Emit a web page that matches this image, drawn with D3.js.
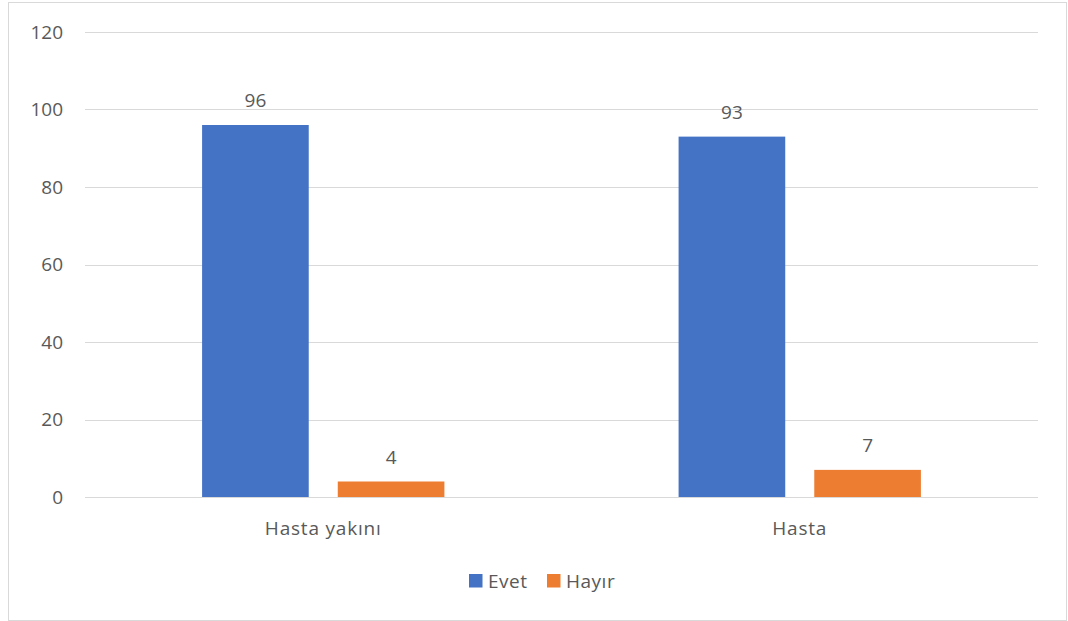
<!DOCTYPE html>
<meta charset="utf-8">
<style>
body { margin: 0; background: #fff; }
text { font-family: "Open Sans", sans-serif; fill: #595959; }
</style>
<body>
<svg id="chart" width="1068" height="621"></svg>
<script src="https://cdn.jsdelivr.net/npm/d3@7"></script>
<script>

var categories = ["Hasta yakını", "Hasta"];
var series = ["Evet", "Hayır"];
var evet = [96, 93];
var hayir = [4, 7];
var yTicks = [0, 20, 40, 60, 80, 100, 120];
var colors = ["#4472C4", "#ED7D31"];

var svg = d3.select("#chart");

var plotLeft = 85, plotRight = 1038, plotTop = 32, plotBottom = 497;

// chart border
svg.append("rect")
    .attr("x", 8.5).attr("y", 2.5)
    .attr("width", 1058).attr("height", 618)
    .attr("fill", "#fff")
    .attr("stroke", "#d9d9d9");

var y = d3.scaleLinear().domain([0, 120]).range([plotBottom, plotTop]);

var x0 = d3.scaleBand().domain(categories).range([plotLeft, plotRight]);

var x1 = d3.scaleBand().domain(series)
    .range([0, x0.bandwidth()])
    .paddingInner(0.214)
    .paddingOuter(0.863);

var color = d3.scaleOrdinal().domain(series).range(colors);

// grid lines + tick labels
svg.append("g").selectAll("line")
    .data(yTicks)
  .enter().append("line")
    .attr("x1", plotLeft).attr("x2", plotRight)
    .attr("y1", function(d) { return Math.round(y(d)) + 0.5; })
    .attr("y2", function(d) { return Math.round(y(d)) + 0.5; })
    .attr("stroke", "#d9d9d9")
    .attr("stroke-width", 1);

svg.append("g").selectAll("text")
    .data(yTicks)
  .enter().append("text")
    .attr("x", 63)
    .attr("y", function(d) { return y(d); })
    .attr("dy", "0.35em")
    .attr("text-anchor", "end")
    .style("font-size", "19px")
    .text(function(d) { return d; });

var rows = categories.map(function(c, i) {
  return { cat: c, values: [
    { key: "Evet", value: evet[i] },
    { key: "Hayır", value: hayir[i] }
  ]};
});

var groups = svg.append("g").selectAll("g")
    .data(rows)
  .enter().append("g")
    .attr("transform", function(d) { return "translate(" + x0(d.cat) + ",0)"; });

groups.selectAll("rect")
    .data(function(d) { return d.values; })
  .enter().append("rect")
    .attr("x", function(d) { return x1(d.key); })
    .attr("y", function(d) { return y(d.value); })
    .attr("width", x1.bandwidth())
    .attr("height", function(d) { return y(0) - y(d.value); })
    .attr("fill", function(d) { return color(d.key); });

groups.selectAll("text")
    .data(function(d) { return d.values; })
  .enter().append("text")
    .attr("x", function(d) { return x1(d.key) + x1.bandwidth() / 2; })
    .attr("y", function(d) { return y(d.value) - 18; })
    .attr("text-anchor", "middle")
    .style("font-size", "19px")
    .text(function(d) { return d.value; });

// category labels
svg.append("g").selectAll("text")
    .data(categories)
  .enter().append("text")
    .attr("x", function(d) { return x0(d) + x0.bandwidth() / 2; })
    .attr("y", 535)
    .attr("text-anchor", "middle")
    .style("font-size", "19px")
    .style("letter-spacing", "0.8px")
    .text(function(d) { return d; });

// legend
var legendX = [469, 547];
var legend = svg.append("g").selectAll("g")
    .data(series)
  .enter().append("g")
    .attr("transform", function(d, i) { return "translate(" + legendX[i] + ",574)"; });

legend.append("rect")
    .attr("width", 13.5).attr("height", 13.5)
    .attr("fill", function(d) { return color(d); });

legend.append("text")
    .attr("x", 19)
    .attr("y", 13.5)
    .style("font-size", "19px")
    .style("letter-spacing", "0.5px")
    .text(function(d) { return d; });

</script>
</body>
